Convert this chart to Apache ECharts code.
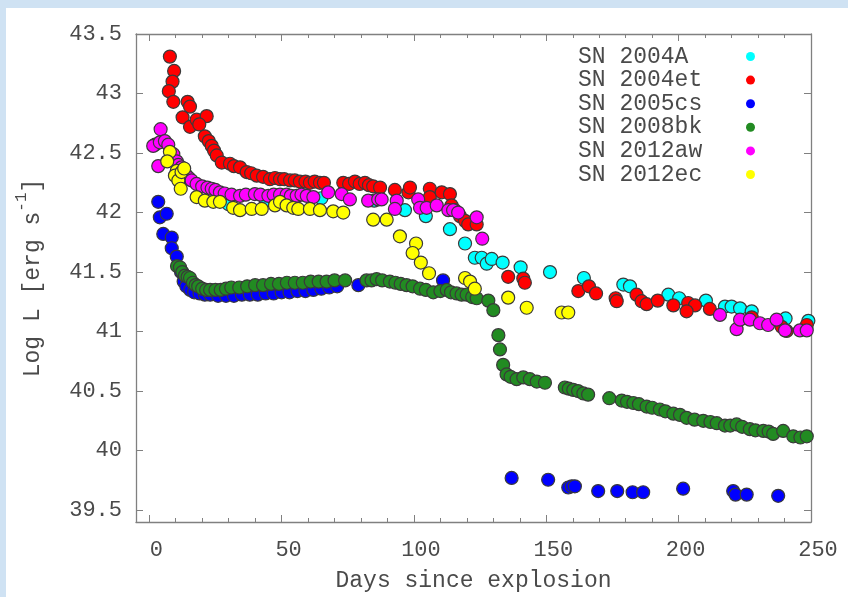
<!DOCTYPE html>
<html>
<head>
<meta charset="utf-8">
<script src="https://cdn.jsdelivr.net/npm/echarts@6/dist/echarts.min.js"></script>
<style>
html,body{margin:0;padding:0;background:#fff;}
#chart{width:848px;height:597px;}
</style>
</head>
<body>
<div id="chart"></div>
<script>
// ---- data: [days since explosion, log L] ----
const seriesNames = ['SN 2004A', 'SN 2004et', 'SN 2005cs', 'SN 2008bk', 'SN 2012aw', 'SN 2012ec'];
const seriesColors = ['#00ffff', '#ff0000', '#0000ff', '#228b22', '#ff00ff', '#ffff00'];

const sn2004A = [[28,42.12],[30,42.07],[44,42.10],[55,42.12],[65,42.12],[85,42.10],[96.6,42.02],[104.5,41.97],[113.6,41.86],[119.3,41.74],[123,41.62],[125.6,41.62],[127.5,41.57],[129.4,41.61],[133.5,41.58],[140.3,41.54],[151.4,41.50],[164.2,41.45],[179.1,41.395],[181.6,41.38],[196.1,41.31],[200.2,41.28],[210.3,41.26],[217.5,41.21],[220,41.21],[223.2,41.195],[227.6,41.17],[240.4,41.11],[249,41.09]];

const sn2004et = [[7.8,43.31],[9.4,43.19],[8.8,43.10],[7.4,43.02],[9.1,42.93],[14.5,42.93],[15.4,42.89],[12.6,42.80],[15.4,42.72],[17.9,42.78],[21.7,42.81],[18.9,42.74],[21.0,42.64],[22.5,42.60],[23.6,42.56],[24.5,42.52],[25.5,42.48],[27.4,42.42],[30.5,42.41],[32,42.39],[34.3,42.38],[36.8,42.34],[38.5,42.33],[40.6,42.31],[43,42.30],[45.6,42.28],[47.5,42.29],[49.4,42.28],[51,42.28],[53.2,42.27],[55,42.27],[56.9,42.26],[59,42.26],[60.7,42.25],[62.5,42.26],[64.5,42.25],[66,42.25],[73.3,42.25],[75.5,42.24],[77.7,42.26],[79.5,42.24],[81.5,42.25],[83,42.23],[84.6,42.22],[87.2,42.21],[92.8,42.19],[97.9,42.17],[98.5,42.21],[106,42.20],[106,42.13],[110.5,42.17],[113.6,42.155],[114.2,42.06],[115.5,42.02],[117.4,41.97],[119.3,41.93],[120.5,41.90],[123.7,41.90],[135.6,41.46],[141.3,41.445],[141.9,41.41],[162.1,41.34],[166.1,41.38],[168.8,41.32],[176.2,41.28],[176.6,41.255],[184.1,41.31],[186,41.255],[187.9,41.23],[192.1,41.26],[198,41.22],[203.6,41.24],[206.2,41.22],[203,41.17],[211.8,41.19],[227.6,41.12],[238.9,41.04],[240.8,41.005],[248.4,41.055]];

const sn2005cs = [[3.4,42.09],[4.0,41.96],[6.6,41.99],[5.3,41.82],[8.5,41.79],[8.5,41.70],[10.4,41.63],[12,41.50],[13,41.42],[14,41.38],[15.5,41.35],[17,41.33],[19,41.32],[21,41.31],[23,41.31],[26,41.30],[29,41.30],[32,41.30],[35,41.31],[38,41.31],[41,41.31],[44,41.32],[47,41.32],[50,41.33],[53,41.33],[56,41.34],[59,41.34],[62,41.35],[65,41.36],[68,41.37],[71,41.38],[79,41.39],[111,41.43],[136.9,39.77],[150.7,39.755],[158.3,39.69],[159.6,39.70],[160.8,39.70],[169.6,39.66],[176.8,39.66],[182.6,39.65],[186.6,39.65],[201.7,39.68],[220.6,39.66],[221.5,39.63],[225.7,39.63],[237.6,39.62]];

const sn2008bk = [[10.5,41.55],[11.6,41.54],[12.5,41.50],[13.5,41.47],[14.5,41.46],[15.4,41.45],[16.5,41.41],[17.5,41.39],[18.5,41.38],[20,41.36],[21.5,41.35],[23,41.35],[25,41.35],[27,41.35],[29,41.36],[31,41.37],[34,41.37],[37,41.38],[40,41.39],[43,41.39],[46,41.40],[49,41.40],[52,41.41],[55,41.41],[58,41.41],[61,41.42],[64,41.42],[67,41.42],[70,41.43],[74,41.43],[82.1,41.43],[84,41.43],[85.9,41.44],[88,41.43],[90.9,41.42],[93,41.41],[95,41.40],[97.2,41.39],[99.5,41.38],[102.3,41.36],[104.5,41.35],[107.3,41.33],[110,41.34],[112.4,41.35],[114,41.33],[116.1,41.32],[118,41.31],[119.9,41.31],[122,41.29],[123.7,41.28],[128.1,41.26],[130,41.18],[131.9,40.97],[132.5,40.85],[133.7,40.72],[135,40.64],[136.5,40.62],[138.8,40.60],[141.3,40.615],[143.8,40.60],[146.4,40.58],[149.5,40.57],[157,40.53],[158.5,40.52],[160.2,40.51],[162,40.50],[164,40.48],[165.8,40.47],[173.8,40.44],[178.5,40.42],[180.5,40.41],[182.9,40.40],[185,40.39],[187.9,40.37],[190,40.36],[192.9,40.345],[195,40.33],[198,40.31],[200.5,40.30],[203,40.275],[206,40.26],[209.3,40.25],[212,40.24],[214.4,40.23],[217.5,40.21],[219.5,40.21],[221.9,40.22],[224,40.20],[226.9,40.18],[229,40.17],[232,40.165],[234,40.16],[235.7,40.14],[239.5,40.165],[243.3,40.12],[246,40.11],[248.4,40.12]];

const sn2012aw = [[4.3,42.70],[2.2,42.57],[1.5,42.56],[4.0,42.59],[5.9,42.60],[3.4,42.39],[7.2,42.57],[9.1,42.49],[10.4,42.43],[11,42.40],[12.2,42.38],[13,42.35],[14.1,42.31],[15,42.29],[16,42.27],[17.9,42.24],[20,42.22],[22,42.21],[23.6,42.20],[25,42.19],[26.7,42.17],[28.5,42.16],[31.1,42.15],[34.3,42.14],[36.5,42.15],[39.9,42.155],[42,42.15],[45,42.14],[47,42.15],[49.4,42.15],[51.9,42.15],[53.5,42.14],[55.7,42.14],[57.5,42.15],[59.5,42.14],[62,42.13],[67.6,42.17],[72.7,42.155],[75.8,42.11],[82.7,42.10],[86.5,42.11],[87.8,42.11],[93.5,42.10],[92.8,42.03],[101.6,42.11],[102.3,42.04],[104.8,42.04],[108.6,42.06],[113,42.02],[114.8,42.02],[116.7,42.0],[123.7,41.96],[125.8,41.78],[215.6,41.14],[221.9,41.02],[223.2,41.10],[226.9,41.10],[230.7,41.07],[233.8,41.055],[237,41.10],[240.2,41.01],[245.8,41.01],[248.4,41.01]];

const sn2012ec = [[7.8,42.51],[6.8,42.43],[10.4,42.35],[9.7,42.31],[11,42.27],[11.9,42.20],[12.2,42.34],[13.2,42.37],[17.9,42.13],[21,42.10],[24.2,42.09],[26.7,42.09],[31.7,42.04],[34.3,42.02],[38.7,42.03],[42.5,42.03],[47.5,42.06],[49.4,42.09],[51.9,42.06],[54.4,42.04],[56.3,42.03],[60.7,42.03],[64.5,42.02],[69.5,42.01],[73.3,42.0],[84.6,41.94],[89.7,41.94],[94.7,41.80],[100.8,41.74],[99.5,41.66],[102.6,41.58],[105.7,41.49],[119.3,41.45],[121.2,41.42],[123,41.36],[135.6,41.285],[142.6,41.20],[155.8,41.16],[158.3,41.16]];

const seriesData = [sn2004A, sn2004et, sn2005cs, sn2008bk, sn2012aw, sn2012ec];

const xMajorTicks = [0, 50, 100, 150, 200, 250];
const xMinorTicks = [0,10,20,30,40,60,70,80,90,110,120,130,140,160,170,180,190,210,220,230,240];
const yTicks = [39.5, 40, 40.5, 41, 41.5, 42, 42.5, 43, 43.5];

// ---- chart ----
const FONT = '"Liberation Mono", "DejaVu Sans Mono", monospace';
const TXT = '#4a4a4a';
const FRAME = '#808080';
const chart = echarts.init(document.getElementById('chart'), null, {renderer: 'canvas'});

function xAxisDef(pos, ticks, len, showLabel, showLine) {
  return {
    type: 'value', min: -5, max: 250, position: pos,
    axisLine: {show: showLine, onZero: false, lineStyle: {color: FRAME, width: 1.3}},
    axisTick: {show: true, inside: true, length: len, customValues: ticks, lineStyle: {color: FRAME, width: 1}},
    axisLabel: showLabel ? {show: true, customValues: xMajorTicks, fontFamily: FONT, fontSize: 22, color: TXT, margin: 17, padding: [0,0,0,14]} : {show: false},
    splitLine: {show: false}
  };
}
function yAxisDef(pos, showLabel) {
  return {
    type: 'value', min: 39.4, max: 43.5, position: pos,
    axisLine: {show: true, onZero: false, lineStyle: {color: FRAME, width: 1.3}},
    axisTick: {show: true, inside: true, length: 7, customValues: yTicks, lineStyle: {color: FRAME, width: 1}},
    axisLabel: showLabel ? {show: true, customValues: yTicks, fontFamily: FONT, fontSize: 22, color: TXT, margin: 14} : {show: false},
    splitLine: {show: false}
  };
}

const xAxes = [
  xAxisDef('bottom', xMajorTicks, 7, true, true),
  xAxisDef('bottom', xMinorTicks, 4, false, false),
  xAxisDef('top', xMajorTicks, 7, false, true),
  xAxisDef('top', xMinorTicks, 4, false, false)
];
xAxes[0].name = 'Days since explosion';
xAxes[0].nameLocation = 'middle';
xAxes[0].nameGap = 47;
xAxes[0].nameTextStyle = {fontFamily: FONT, fontSize: 23, color: TXT};

const yAxes = [yAxisDef('left', true), yAxisDef('right', false)];
yAxes[0].name = '{a|Log L [erg s}{s|-1}{a|]}';
yAxes[0].nameLocation = 'middle';
yAxes[0].nameRotate = 90;
yAxes[0].nameGap = 92;
yAxes[0].nameTextStyle = {
  rich: {
    a: {fontFamily: FONT, fontSize: 23, color: TXT, lineHeight: 30, verticalAlign: 'bottom'},
    s: {fontFamily: FONT, fontSize: 16, color: TXT, lineHeight: 30, verticalAlign: 'top'}
  }
};

const series = seriesNames.map((name, i) => ({
  name: name,
  type: 'scatter',
  xAxisIndex: 0,
  yAxisIndex: 0,
  data: seriesData[i],
  symbol: 'circle',
  symbolSize: 13,
  itemStyle: {color: seriesColors[i], borderColor: '#3a3a3a', borderWidth: 1.2, opacity: 1},
  emphasis: {disabled: true},
  z: 2 + i
}));

chart.setOption({
  animation: false,
  backgroundColor: '#ffffff',
  grid: {left: 136, top: 34, right: 37, bottom: 73, containLabel: false},
  xAxis: xAxes,
  yAxis: yAxes,
  legend: {
    show: true,
    orient: 'vertical',
    left: 573, top: 40,
    align: 'right',
    icon: 'circle',
    itemWidth: 9, itemHeight: 9,
    itemGap: 0.6,
    itemStyle: {borderWidth: 0},
    formatter: function (name) { return '{t|' + name + '}'; },
    textStyle: {
      fontFamily: FONT, fontSize: 23, color: TXT, lineHeight: 20,
      rich: {t: {fontFamily: FONT, fontSize: 23, color: TXT, lineHeight: 20, width: 163, align: 'left'}}
    },
    data: seriesNames
  },
  graphic: [
    {type: 'rect', left: 0, top: 0, shape: {width: 848, height: 8}, style: {fill: '#cfe2f3'}, silent: true},
    {type: 'rect', left: 0, top: 0, shape: {width: 6, height: 597}, style: {fill: '#cfe2f3'}, silent: true}
  ],
  series: series
});
</script>
</body>
</html>
